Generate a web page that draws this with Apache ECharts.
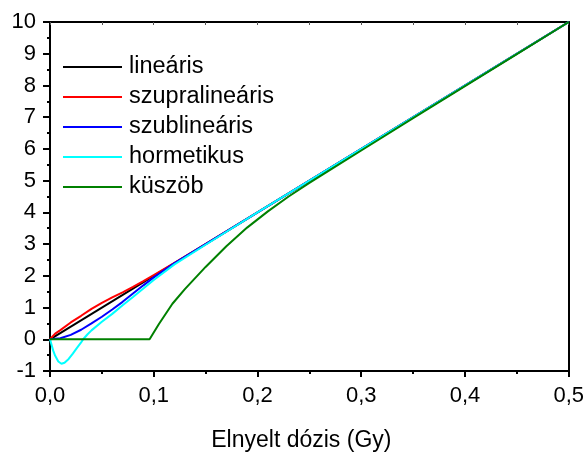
<!DOCTYPE html>
<html>
<head>
<meta charset="utf-8">
<script src="https://cdn.jsdelivr.net/npm/echarts@6/dist/echarts.min.js"></script>
<style>
html,body{margin:0;padding:0;background:#fff;}
#c{width:587px;height:457px;}
</style>
</head>
<body>
<div id="c"></div>
<script>
var seriesNames = ['lineáris', 'szupralineáris', 'szublineáris', 'hormetikus', 'küszöb'];
var seriesColors = ['#000000', '#ff0000', '#0000ff', '#00ffff', '#008000'];

var linX = [0, 0.5];
var linY = [0, 10];

var supX = [0, 0.005, 0.01, 0.02, 0.03, 0.04, 0.05, 0.06, 0.07, 0.08, 0.09, 0.10, 0.12, 0.15, 0.5];
var supY = [0, 0.18, 0.29, 0.53, 0.74, 0.96, 1.15, 1.32, 1.48, 1.65, 1.83, 2.02, 2.41, 3.0, 10];

var subX = [0, 0.01, 0.02, 0.03, 0.04, 0.05, 0.06, 0.07, 0.08, 0.09, 0.10, 0.12, 0.15, 0.5];
var subY = [0, 0.03, 0.14, 0.3, 0.5, 0.71, 0.94, 1.18, 1.44, 1.7, 1.95, 2.4, 3.0, 10];

var horX = [0, 0.003, 0.005, 0.008, 0.011, 0.014, 0.018, 0.022, 0.026, 0.03, 0.032, 0.036, 0.04, 0.05, 0.06, 0.07, 0.08, 0.09, 0.10, 0.12, 0.15, 0.2, 0.5];
var horY = [0, -0.35, -0.52, -0.7, -0.77, -0.74, -0.62, -0.45, -0.27, -0.1, 0, 0.15, 0.28, 0.55, 0.8, 1.07, 1.33, 1.6, 1.87, 2.36, 2.98, 4.0, 10];

var thrX = [0, 0.096, 0.105, 0.118, 0.13, 0.15, 0.17, 0.19, 0.21, 0.23, 0.25, 0.27, 0.3, 0.35, 0.4, 0.45, 0.5];
var thrY = [0, 0, 0.48, 1.12, 1.58, 2.28, 2.93, 3.52, 4.03, 4.5, 4.93, 5.34, 5.95, 6.97, 7.98, 8.99, 10];

function pairs(xs, ys) { return xs.map(function (x, i) { return [x, ys[i]]; }); }
var allData = [pairs(linX, linY), pairs(supX, supY), pairs(subX, subY), pairs(horX, horY), pairs(thrX, thrY)];

var FONT = '"Liberation Sans", Arial, sans-serif';
var chart = echarts.init(document.getElementById('c'), null, {renderer: 'canvas'});

var series = seriesNames.map(function (n, i) {
  return {
    name: n, type: 'line', data: allData[i], symbol: 'none', smooth: false,
    xAxisIndex: 0, yAxisIndex: 0,
    lineStyle: {color: seriesColors[i], width: 2},
    itemStyle: {color: seriesColors[i]},
    animation: false
  };
});

chart.setOption({
  animation: false,
  backgroundColor: '#ffffff',
  grid: {left: 50, right: 16, top: 22, bottom: 74, containLabel: false},
  legend: {
    show: true, orient: 'vertical', left: 58, top: 50,
    icon: 'rect', itemWidth: 59, itemHeight: 2, itemGap: 6,
    data: seriesNames,
    textStyle: {fontFamily: FONT, fontSize: 23.5, color: '#000', lineHeight: 24, padding: [0, 0, 0, 2]}
  },
  xAxis: [{
    type: 'value', min: 0, max: 0.5, interval: 0.1, position: 'bottom',
    name: 'Elnyelt dózis (Gy)', nameLocation: 'middle', nameGap: 58,
    nameTextStyle: {fontFamily: FONT, fontSize: 23, color: '#000', padding: [0, 16, 0, 0]},
    axisLine: {show: true, onZero: false, lineStyle: {color: '#000', width: 2}},
    axisTick: {show: true, inside: false, length: 6, lineStyle: {color: '#000', width: 2}},
    minorTick: {show: true, splitNumber: 2, length: 3, lineStyle: {color: '#000', width: 2}},
    axisLabel: {fontFamily: FONT, fontSize: 22, color: '#000', margin: 14,
      formatter: function (v) { return v.toFixed(1).replace('.', ','); }},
    splitLine: {show: false}
  }, {
    type: 'value', min: 0, max: 0.5, interval: 0.05, position: 'top',
    axisLine: {show: true, onZero: false, lineStyle: {color: '#000', width: 2}},
    axisTick: {show: true, inside: true, length: 3, lineStyle: {color: '#555', width: 1}},
    axisLabel: {show: false}, splitLine: {show: false}
  }],
  yAxis: [{
    type: 'value', min: -1, max: 10, interval: 1, position: 'left',
    axisLine: {show: true, onZero: false, lineStyle: {color: '#000', width: 2}},
    axisTick: {show: true, inside: false, length: 7, lineStyle: {color: '#000', width: 2}},
    minorTick: {show: true, splitNumber: 2, length: 3, lineStyle: {color: '#000', width: 2}},
    axisLabel: {fontFamily: FONT, fontSize: 22, color: '#000', margin: 14},
    splitLine: {show: false}
  }, {
    type: 'value', min: -1, max: 10, interval: 1, position: 'right',
    axisLine: {show: true, onZero: false, lineStyle: {color: '#000', width: 2}},
    axisTick: {show: false}, axisLabel: {show: false}, splitLine: {show: false}
  }],
  series: series
});
</script>
</body>
</html>
